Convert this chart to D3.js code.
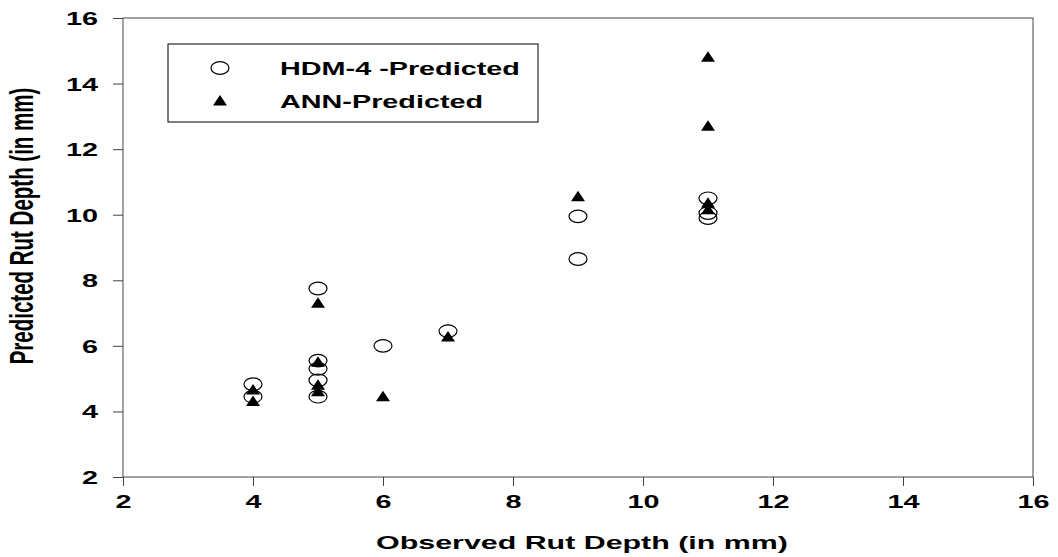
<!DOCTYPE html>
<html><head><meta charset="utf-8">
<script src="https://cdn.jsdelivr.net/npm/d3@7"></script>
<style>body{margin:0;background:#fff}</style>
</head><body><svg id="c" width="1058" height="557"></svg>
<script>
const xTicks=[2,4,6,8,10,12,14,16];
const yTicks=[2,4,6,8,10,12,14,16];
const hdmX=[4,4,5,5,5,5,5,6,7,9,9,11,11,11];
const hdmY=[4.83,4.45,7.75,5.55,5.3,4.95,4.45,6.0,6.45,9.95,8.65,10.5,10.05,9.9];
const annX=[4,4,5,5,5,5,6,7,9,11,11,11,11];
const annY=[4.65,4.3,7.3,5.5,4.8,4.6,4.45,6.27,10.55,14.8,12.7,10.35,10.15];
const seriesNames=["HDM-4 -Predicted","ANN-Predicted"];
const xTitle="Observed Rut Depth (in mm)";
const yTitle="Predicted Rut Depth (in mm)";

const SX=1.6;
const svg=d3.select("#c");
const L=123,R=1033,T=18,B=477;
const x=d3.scaleLinear().domain([2,16]).range([L,R]);
const y=d3.scaleLinear().domain([2,16]).range([B,T]);
const axisCol="#444";
const font="'Liberation Sans', Arial, sans-serif";

// frame
svg.append("rect").attr("x",L).attr("y",T).attr("width",R-L).attr("height",B-T)
  .attr("fill","none").attr("stroke",axisCol).attr("stroke-width",1);

const gx=svg.append("g").attr("transform",`translate(0,${B})`)
  .call(d3.axisBottom(x).tickValues(xTicks).tickSize(9).tickSizeOuter(0).tickFormat(d3.format("d")));
gx.select(".domain").remove();
gx.selectAll(".tick line").attr("stroke",axisCol);
gx.selectAll(".tick text").attr("font-family",font).attr("font-weight","bold").attr("font-size",18)
  .attr("fill","#000").attr("y",0).attr("dy",0)
  .attr("transform",`translate(0,31) scale(${SX},1)`);

const gy=svg.append("g").attr("transform",`translate(${L},0)`)
  .call(d3.axisLeft(y).tickValues(yTicks).tickSize(10).tickSizeOuter(0).tickFormat(d3.format("d")));
gy.select(".domain").remove();
gy.selectAll(".tick line").attr("stroke",axisCol);
gy.selectAll(".tick text").attr("font-family",font).attr("font-weight","bold").attr("font-size",18)
  .attr("fill","#000").attr("x",0).attr("dy","0.36em")
  .attr("transform",`translate(-25,0) scale(${SX},1)`);

// titles
svg.append("text").attr("transform",`translate(${(L+R)/2+4},549) scale(${SX},1)`)
  .attr("text-anchor","middle").attr("font-family",font).attr("font-weight","bold")
  .attr("font-size",19).text(xTitle);
svg.append("text").attr("transform",`translate(33,226) scale(${SX},1) rotate(-90)`)
  .attr("text-anchor","middle").attr("font-family",font).attr("font-weight","bold")
  .attr("font-size",20.5).text(yTitle);

const tri="M0,-6L7,4.5L-7,4.5Z";
const hdm=hdmX.map((v,i)=>({x:v,y:hdmY[i]}));
const ann=annX.map((v,i)=>({x:v,y:annY[i]}));

svg.append("g").selectAll("path").data(ann).join("path")
  .attr("d",tri).attr("fill","#000")
  .attr("transform",d=>`translate(${x(d.x)},${y(d.y)})`);
svg.append("g").selectAll("ellipse").data(hdm).join("ellipse")
  .attr("cx",d=>x(d.x)).attr("cy",d=>y(d.y)).attr("rx",9).attr("ry",6.3)
  .attr("fill","none").attr("stroke","#000").attr("stroke-width",1.2);

// legend
const lg=svg.append("g");
lg.append("rect").attr("x",168).attr("y",44).attr("width",370).attr("height",78)
  .attr("fill","#fff").attr("stroke","#000").attr("stroke-width",1);
lg.append("ellipse").attr("cx",220).attr("cy",68).attr("rx",9).attr("ry",6.3)
  .attr("fill","none").attr("stroke","#000").attr("stroke-width",1.2);
lg.append("path").attr("d",tri).attr("fill","#000").attr("transform","translate(220,101)");
lg.selectAll("text").data(seriesNames).join("text")
  .attr("transform",(d,i)=>`translate(280,${75+i*33}) scale(${SX},1)`)
  .attr("font-family",font).attr("font-weight","bold").attr("font-size",18).text(d=>d);
</script></body></html>
